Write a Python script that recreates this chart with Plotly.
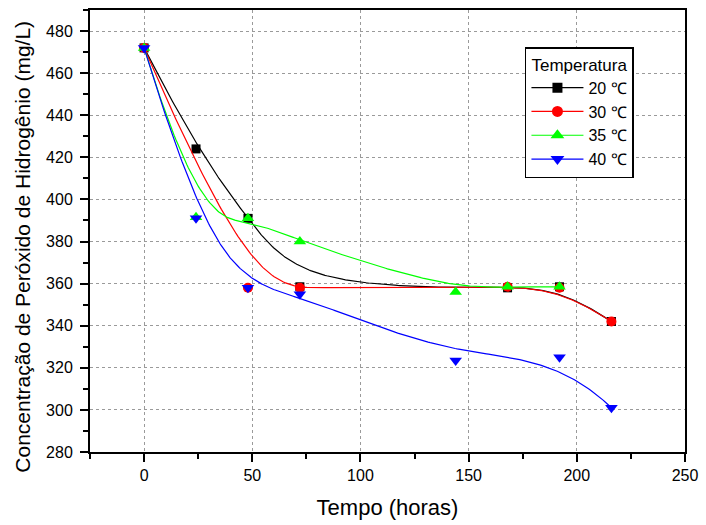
import numpy as np
import plotly.graph_objects as go

# ---- data ----
t20 = [0, 24, 48, 72, 168, 192, 216]
c20 = [472, 424, 391, 358.5, 358, 358.5, 342]

t30 = [0, 48, 72, 168, 192, 216]
c30 = [472, 358, 358, 358.5, 358, 342]

t35 = [0, 24, 48, 72, 144, 168, 192]
c35 = [472, 391.5, 391, 380, 356, 358.5, 358.5]

t40 = [0, 24, 48, 72, 144, 192, 216]
c40 = [472, 391, 358, 355, 323.5, 325, 301]

names = ["20 ℃", "30 ℃", "35 ℃", "40 ℃"]
colors = ["#000000", "#FF0000", "#00FF00", "#0000FF"]
symbols = ["square", "circle", "triangle-up", "triangle-down"]
msizes = [9, 10, 11, 11]

x_ticks = [0, 50, 100, 150, 200, 250]
y_ticks = [280, 300, 320, 340, 360, 380, 400, 420, 440, 460, 480]


def bspline(cx, cy, n=300, k=3):
    """Clamped uniform cubic B-spline using the data points as control points."""
    P = np.column_stack([cx, cy]).astype(float)
    m = len(P)
    knots = np.concatenate([np.zeros(k), np.linspace(0, 1, m - k + 1), np.ones(k)])
    out = []
    for u in np.linspace(0, 1, n):
        if u >= 1:
            s = m - 1
        else:
            s = np.searchsorted(knots, u, side="right") - 1
        d = [P[j].copy() for j in range(s - k, s + 1)]
        for r in range(1, k + 1):
            for j in range(k, r - 1, -1):
                i = j + s - k
                den = knots[i + k - r + 1] - knots[i]
                a = 0.0 if den == 0 else (u - knots[i]) / den
                d[j] = (1 - a) * d[j - 1] + a * d[j]
        out.append(d[k])
    out = np.array(out)
    return out[:, 0], out[:, 1]


fig = go.Figure()
series = [(t20, c20), (t30, c30), (t35, c35), (t40, c40)]
for (tx, cy), nm, col, sym, ms in zip(series, names, colors, symbols, msizes):
    bx, by = bspline(tx, cy)
    fig.add_trace(go.Scatter(x=bx, y=by, mode="lines", line=dict(color=col, width=1.2),
                             showlegend=False, hoverinfo="skip"))
    fig.add_trace(go.Scatter(x=tx, y=cy, mode="markers", showlegend=False,
                             marker=dict(color=col, symbol=sym, size=ms, line=dict(width=0))))
    fig.add_trace(go.Scatter(x=[None], y=[None], mode="lines+markers", name=nm,
                             line=dict(color=col, width=1.2),
                             marker=dict(color=col, symbol=sym, size=ms + 1, line=dict(width=0))))

font = "Liberation Sans, Arial, sans-serif"
axis_common = dict(
    showline=True, linecolor="black", linewidth=2, mirror=True,
    ticks="outside", ticklen=8, tickwidth=2, tickcolor="black",
    showgrid=True, gridcolor="#9a9a9a", griddash="dot", gridwidth=1,
    zeroline=False, tickfont=dict(family=font, size=16, color="black"),
)

fig.update_xaxes(range=[-25, 250], tickvals=x_ticks,
                 minor=dict(ticks="outside", ticklen=5, tickwidth=2, tickcolor="black",
                            dtick=25, tick0=0, showgrid=False),
                 title=dict(text="Tempo (horas)", font=dict(family=font, size=22, color="black"),
                            standoff=16),
                 **axis_common)
fig.update_yaxes(range=[280, 490], tickvals=y_ticks, ticklabelstandoff=4,
                 minor=dict(ticks="outside", ticklen=5, tickwidth=2, tickcolor="black",
                            dtick=10, tick0=280, showgrid=False),
                 **axis_common)

fig.add_annotation(
    text="Concentração de Peróxido de Hidrogênio (mg/L)",
    xref="paper", yref="paper", x=-0.113, y=0.464, xanchor="center", yanchor="middle",
    textangle=-90, showarrow=False, font=dict(family=font, size=21, color="black"),
)

fig.update_layout(
    width=706, height=525,
    margin=dict(l=90, r=18, t=8, b=73),
    plot_bgcolor="white", paper_bgcolor="white",
    font=dict(family=font, color="black"),
    legend=dict(
        x=0.731, y=0.916, xanchor="left", yanchor="top",
        bordercolor="black", borderwidth=1.5, bgcolor="white",
        font=dict(family=font, size=16, color="black"),
        title=dict(text="Temperatura", side="top center",
                   font=dict(family=font, size=17, color="black")),
        itemwidth=52, tracegroupgap=0,
    ),
)

fig.write_html("out.html")
